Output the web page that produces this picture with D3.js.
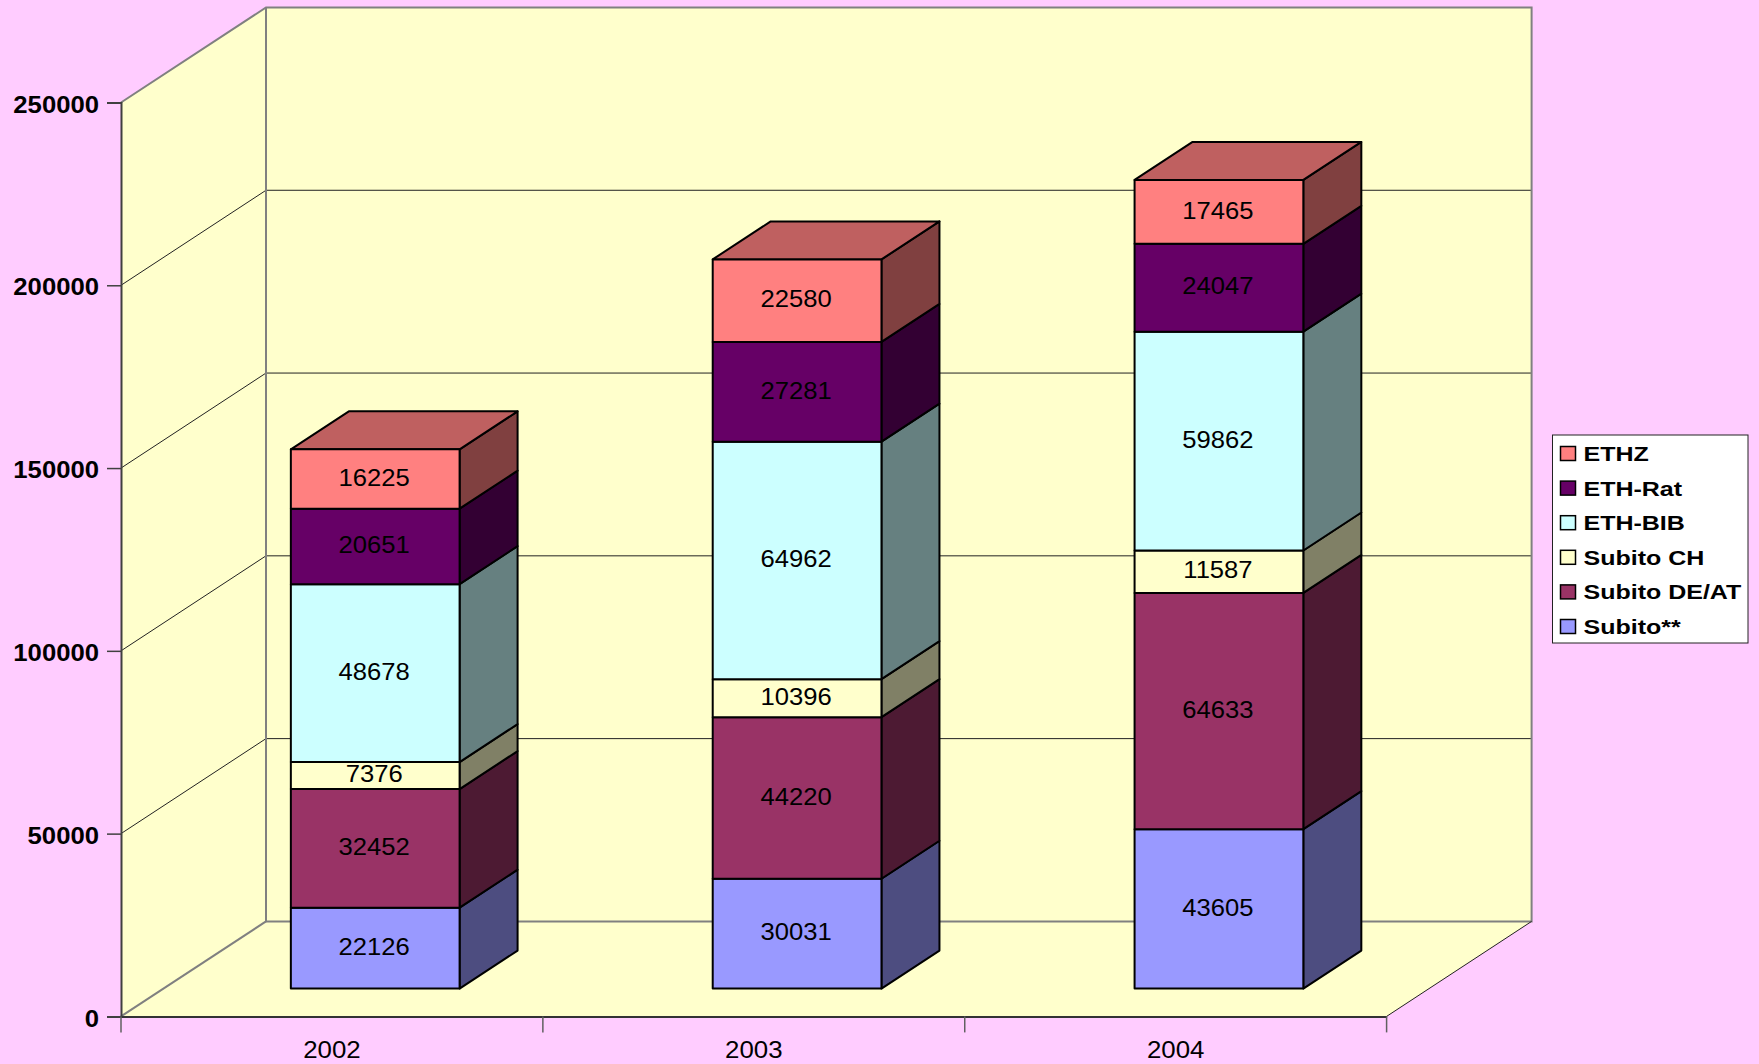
<!DOCTYPE html>
<html>
<head>
<meta charset="utf-8">
<title>Stacked 3D columns</title>
<script src="https://cdn.jsdelivr.net/npm/d3@7"></script>
<style>
    html, body { margin: 0; padding: 0; background: #ffccff; }
    svg { display: block; }
    text { font-family: "Liberation Sans", Arial, sans-serif; fill: #000; }
</style>
</head>
<body>
<div id="chart"></div>
<script>
(function () {
    'use strict';

    var years = ['2002', '2003', '2004'];
    var seriesNames = ['Subito**', 'Subito DE/AT', 'Subito CH', 'ETH-BIB', 'ETH-Rat', 'ETHZ'];
    var subito = [22126, 30031, 43605];
    var subitoDeAt = [32452, 44220, 64633];
    var subitoCh = [7376, 10396, 11587];
    var ethBib = [48678, 64962, 59862];
    var ethRat = [20651, 27281, 24047];
    var ethz = [16225, 22580, 17465];
    var yTicks = [0, 50000, 100000, 150000, 200000, 250000];

    var frontColors = ['#9999ff', '#993366', '#ffffcc', '#ccffff', '#660066', '#ff8080'];
    var sideColors = ['#4d4d80', '#4d1a33', '#808066', '#668080', '#330033', '#804040'];
    var topColor = '#bf6060';

    var width = 1759,
        height = 1064,
        plot = { left: 121, right: 1386.6, top: 102.5, bottom: 1016.4 },
        depth = { dx: 145, dy: -95 },
        barDepth = { near: 0.293, far: 0.693 },
        barNudge = 0.8;

    var rows = years.map(function (year, i) {
        return {
            year: year,
            'Subito**': subito[i],
            'Subito DE/AT': subitoDeAt[i],
            'Subito CH': subitoCh[i],
            'ETH-BIB': ethBib[i],
            'ETH-Rat': ethRat[i],
            'ETHZ': ethz[i]
        };
    });
    var stacked = d3.stack().keys(seriesNames)(rows);

    var x = d3.scaleBand()
        .domain(years)
        .range([plot.left, plot.right])
        .paddingInner(0.6)
        .paddingOuter(0.3);
    var band = d3.scaleBand()
        .domain(years)
        .range([plot.left, plot.right]);
    var y = d3.scaleLinear()
        .domain([0, 250000])
        .range([plot.bottom, plot.top]);

    // px, py on the front plane, z from 0 (front) to 1 (back wall)
    function project(px, py, z) {
        return [px + z * depth.dx, py + z * depth.dy];
    }

    // the reference text is a bit wider than the font draws it
    function stretch(selection, factor) {
        selection.each(function () {
            d3.select(this)
                .attr('textLength', this.getComputedTextLength() * factor)
                .attr('lengthAdjust', 'spacingAndGlyphs');
        });
    }

    var line = d3.line();

    var svg = d3.select('#chart')
        .append('svg')
        .attr('width', width)
        .attr('height', height);

    svg.append('rect')
        .attr('width', width)
        .attr('height', height)
        .attr('fill', '#ffccff');

    // walls and floor
    var walls = svg.append('g').attr('class', 'walls');
    var wallParts = [
        [[plot.left, plot.bottom], [plot.left, plot.top], project(plot.left, plot.top, 1), project(plot.left, plot.bottom, 1)],
        [project(plot.left, plot.top, 1), project(plot.right, plot.top, 1), project(plot.right, plot.bottom, 1), project(plot.left, plot.bottom, 1)],
        [[plot.left, plot.bottom], [plot.right, plot.bottom], project(plot.right, plot.bottom, 1), project(plot.left, plot.bottom, 1)]
    ];
    walls.selectAll('path')
        .data(wallParts)
        .enter().append('path')
        .attr('d', function (d) { return line(d) + 'Z'; })
        .attr('fill', '#ffffcc');

    // gridlines run along the side wall and then the back wall
    var grid = svg.append('g').attr('class', 'grid');
    grid.selectAll('path')
        .data(yTicks.slice(1, -1))
        .enter().append('path')
        .attr('d', function (d) {
            return line([[plot.left, y(d)], project(plot.left, y(d), 1), project(plot.right, y(d), 1)]);
        })
        .attr('fill', 'none')
        .attr('stroke', '#222')
        .attr('stroke-width', 1);

    var edges = svg.append('g').attr('class', 'edges');
    var grayEdges = [
        [[plot.left, plot.top], project(plot.left, plot.top, 1), project(plot.right, plot.top, 1), project(plot.right, plot.bottom, 1), project(plot.left, plot.bottom, 1), project(plot.left, plot.top, 1)],
        [[plot.left, plot.bottom], project(plot.left, plot.bottom, 1)]
    ];
    edges.selectAll('path.gray')
        .data(grayEdges)
        .enter().append('path')
        .attr('class', 'gray')
        .attr('d', line)
        .attr('fill', 'none')
        .attr('stroke', '#808080')
        .attr('stroke-width', 2);
    edges.append('path')
        .attr('d', line([[plot.right, plot.bottom], project(plot.right, plot.bottom, 1)]))
        .attr('fill', 'none')
        .attr('stroke', '#222')
        .attr('stroke-width', 1);

    // columns
    var bars = svg.append('g').attr('class', 'bars');
    years.forEach(function (year, i) {
        var x0 = x(year) + barNudge,
            x1 = x0 + x.bandwidth(),
            col = bars.append('g');

        function shift(p) {
            return project(p[0], p[1], barDepth.near);
        }

        stacked.forEach(function (layer, s) {
            var yLow = y(layer[i][0]),
                yHigh = y(layer[i][1]);
            var a = shift([x0, yHigh]),
                b = shift([x1, yHigh]),
                c = shift([x1, yLow]),
                e = shift([x0, yLow]);
            var z = barDepth.far - barDepth.near;
            var bBack = [b[0] + z * depth.dx, b[1] + z * depth.dy],
                cBack = [c[0] + z * depth.dx, c[1] + z * depth.dy],
                aBack = [a[0] + z * depth.dx, a[1] + z * depth.dy];

            col.append('path')
                .attr('d', line([b, bBack, cBack, c]) + 'Z')
                .attr('fill', sideColors[s])
                .attr('stroke', '#000')
                .attr('stroke-width', 2)
                .attr('stroke-linejoin', 'round');

            if (s === stacked.length - 1) {
                col.append('path')
                    .attr('d', line([a, aBack, bBack, b]) + 'Z')
                    .attr('fill', topColor)
                    .attr('stroke', '#000')
                    .attr('stroke-width', 2)
                    .attr('stroke-linejoin', 'round');
            }

            col.append('path')
                .attr('d', line([a, b, c, e]) + 'Z')
                .attr('fill', frontColors[s])
                .attr('stroke', '#000')
                .attr('stroke-width', 2)
                .attr('stroke-linejoin', 'round');

            col.append('text')
                .attr('class', 'value')
                .attr('x', (a[0] + b[0]) / 2 - 1)
                .attr('y', (a[1] + e[1]) / 2 - 1.5)
                .attr('dy', '0.35em')
                .attr('text-anchor', 'middle')
                .style('font-size', '23.5px')
                .text(layer[i].data[seriesNames[s]]);
        });
    });
    bars.selectAll('text.value').call(stretch, 1.09);

    // axes
    var yAxis = svg.append('g')
        .attr('class', 'y-axis')
        .attr('transform', 'translate(' + plot.left + ',0)')
        .call(d3.axisLeft(y).tickValues(yTicks).tickFormat(d3.format('d')).tickSize(14).tickPadding(8));
    yAxis.select('.domain').attr('stroke', '#404040').attr('stroke-width', 2);
    yAxis.selectAll('.tick line').attr('stroke', '#404040').attr('stroke-width', 1.5);
    yAxis.selectAll('.tick text')
        .attr('dy', '0.4em')
        .style('font-family', '"Liberation Sans", Arial, sans-serif')
        .style('font-size', '24px')
        .style('font-weight', 'bold')
        .call(stretch, 1.07);

    var xAxis = svg.append('g')
        .attr('class', 'x-axis')
        .attr('transform', 'translate(0,' + plot.bottom + ')')
        .call(d3.axisBottom(band).tickSize(0).tickPadding(25));
    xAxis.select('.domain').attr('stroke', '#333').attr('stroke-width', 2);
    xAxis.selectAll('.tick text')
        .style('font-family', '"Liberation Sans", Arial, sans-serif')
        .style('font-size', '23.5px')
        .call(stretch, 1.1);

    var edgeTicks = [plot.left].concat(years.map(function (year) {
        return band(year) + band.bandwidth();
    }));
    xAxis.selectAll('line.edge')
        .data(edgeTicks)
        .enter().append('line')
        .attr('class', 'edge')
        .attr('x1', function (d) { return d; })
        .attr('x2', function (d) { return d; })
        .attr('y1', 0)
        .attr('y2', 16)
        .attr('stroke', '#606060')
        .attr('stroke-width', 1.5);

    // legend
    var legendBox = { x: 1552.5, y: 435, width: 195.5, height: 208, rowTop: 18.5, rowStep: 34.6 };
    var legend = svg.append('g')
        .attr('class', 'legend')
        .attr('transform', 'translate(' + legendBox.x + ',' + legendBox.y + ')');
    legend.append('rect')
        .attr('width', legendBox.width)
        .attr('height', legendBox.height)
        .attr('fill', '#fff')
        .attr('stroke', '#222')
        .attr('stroke-width', 1);

    var legendRows = legend.selectAll('g')
        .data(seriesNames.slice().reverse())
        .enter().append('g')
        .attr('transform', function (d, i) {
            return 'translate(0,' + (legendBox.rowTop + i * legendBox.rowStep) + ')';
        });
    legendRows.append('rect')
        .attr('x', 8)
        .attr('y', -7)
        .attr('width', 15)
        .attr('height', 14)
        .attr('fill', function (d) { return frontColors[seriesNames.indexOf(d)]; })
        .attr('stroke', '#000')
        .attr('stroke-width', 1.5);
    legendRows.append('text')
        .attr('x', 31)
        .attr('dy', '0.36em')
        .style('font-size', '21px')
        .style('font-weight', 'bold')
        .text(function (d) { return d; })
        .call(stretch, 1.19);
})();
</script>
</body>
</html>
